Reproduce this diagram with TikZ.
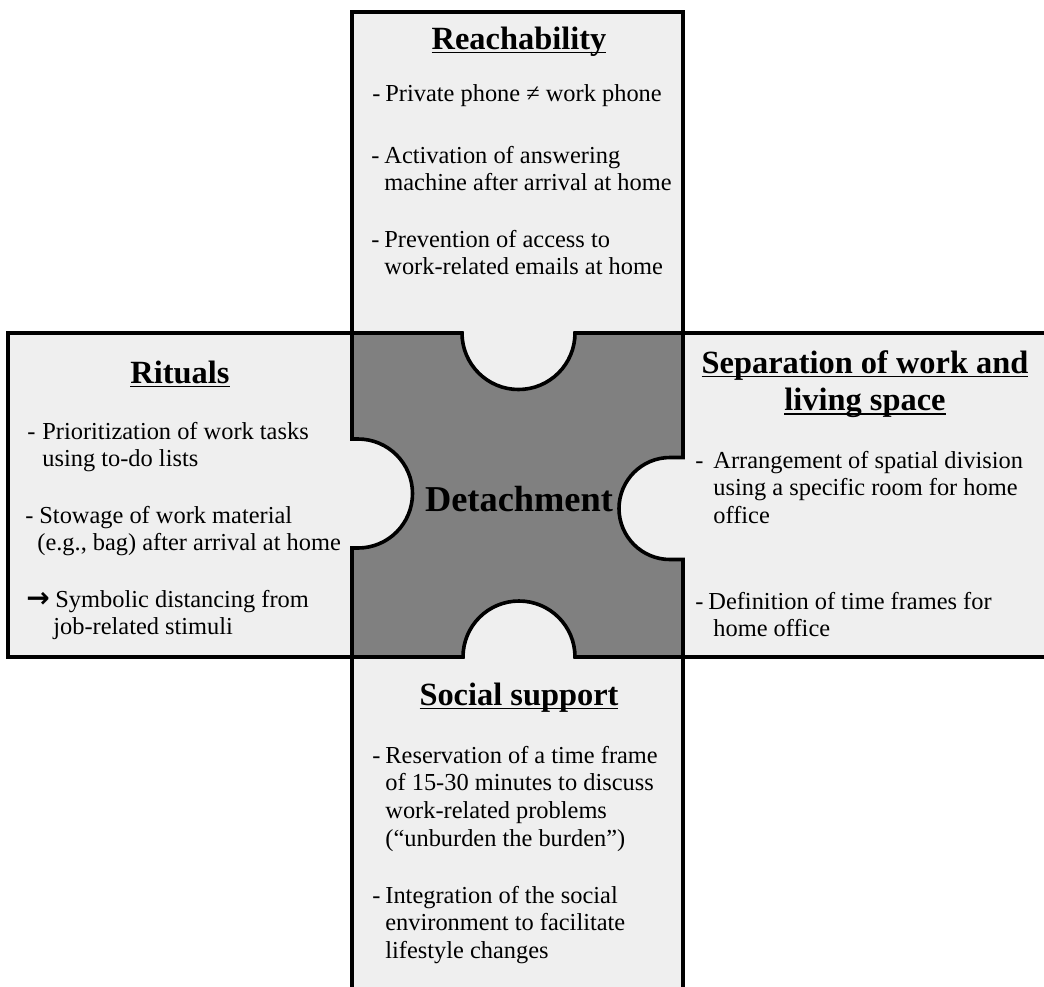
\documentclass[tikz,border=0pt]{standalone}
\usepackage{fontspec}
\setmainfont{Liberation Serif}
\newfontfamily\arrowfont{DejaVu Sans}
\definecolor{lightbg}{RGB}{239,239,239}
\definecolor{darkbg}{RGB}{128,128,128}
\newcommand\lines[1]{\begin{tabular}[t]{@{}l@{}}#1\end{tabular}}
\newcommand\tul[1]{\setbox0\hbox{#1}\rlap{\rule[-2.2pt]{\wd0}{0.9pt}}\box0}
\tikzset{
  boxfill/.style={fill=lightbg, draw=none},
  border/.style={draw=black, line width=1.8pt},
  puzzle/.style={fill=darkbg, draw=black, line width=1.8pt},
  titletxt/.style={inner sep=0pt, anchor=base, font=\fontsize{16.2}{18.6}\selectfont\bfseries},
  bodytxt/.style={inner sep=0pt, anchor=base west, font=\fontsize{12.2}{13.9}\selectfont},
  centertxt/.style={inner sep=0pt, anchor=base, font=\fontsize{18.2}{21}\selectfont\bfseries},
}
\begin{document}
\begin{tikzpicture}[x=0.5pt,y=0.5pt]
\useasboundingbox (0,0) rectangle (1044,-986);
\clip (0,0) rectangle (1044,-986);
% box fills
\fill[boxfill] (352,-12) rectangle (683,-333);
\fill[boxfill] (8,-333) rectangle (352,-657);
\fill[boxfill] (683,-333) rectangle (1060,-657);
\fill[boxfill] (352,-657) rectangle (683,-1000);
\fill[boxfill] (352,-333) rectangle (683,-657);
% center puzzle piece
\path[puzzle] (352,-333) -- (462,-333)
  arc[start angle=180, end angle=360, radius=56.5] -- (683,-333)
  -- (683,-457.5) -- (670,-457.5)
  arc[start angle=90, end angle=270, radius=51] -- (683,-559.5)
  -- (683,-657) -- (575,-657)
  arc[start angle=0, end angle=180, radius=56] -- (352,-657)
  -- (352,-548) -- (358,-548)
  arc[start angle=270, end angle=450, radius=54.5] -- (352,-439) -- cycle;
% box borders
\draw[border] (352,-333) -- (352,-12) -- (683,-12) -- (683,-333);
\draw[border] (352,-333) -- (8,-333) -- (8,-657) -- (352,-657);
\draw[border] (683,-333) -- (1060,-333);
\draw[border] (683,-657) -- (1060,-657);
\draw[border] (352,-657) -- (352,-1000);
\draw[border] (683,-657) -- (683,-1000);
% center label
\node[centertxt] (det) at (519,-511) {Detachment};
% top box
\node[titletxt] (reachT) at (519,-49) {\tul{Reachability}};
\node[bodytxt] (r1d) at (372,-101) {-};
\node[bodytxt] (r1) at (385,-101) {Private phone ≠ work phone};
\node[bodytxt] (r2d) at (371,-163) {-};
\node[bodytxt] (r2) at (384,-163) {\lines{Activation of answering\\machine after arrival at home}};
\node[bodytxt] (r3d) at (371,-247) {-};
\node[bodytxt] (r3) at (384,-247) {\lines{Prevention of access to\\work-related emails at home}};
% left box
\node[titletxt] (ritT) at (180,-383) {\tul{Rituals}};
\node[bodytxt] (l1d) at (27,-439) {-};
\node[bodytxt] (l1) at (42,-439) {\lines{Prioritization of work tasks\\using to-do lists}};
\node[bodytxt] (l2d) at (25,-523) {-};
\node[bodytxt] (l2) at (39,-523) {\lines{Stowage of work material\\\hspace{-1pt}(e.g., bag) after arrival at home}};
\node[bodytxt] (l3d) at (26,-607) {\arrowfont\fontsize{14}{14}\selectfont\bfseries →};
\node[bodytxt] (l3) at (55,-607) {\lines{Symbolic distancing from\\\hspace{-1pt}job-related stimuli}};
% right box
\node[titletxt] (sepT) at (865,-373) {\begin{tabular}[t]{@{}c@{}}\tul{Separation of work and}\\\tul{living space}\end{tabular}};
\node[bodytxt] (s1d) at (695,-468) {-};
\node[bodytxt] (s1) at (713,-468) {\lines{Arrangement of spatial division\\using a specific room for home\\office}};
\node[bodytxt] (s2d) at (695,-609) {-};
\node[bodytxt] (s2) at (708,-609) {\lines{Definition of time frames for\\\hspace{2.5pt}home office}};
% bottom box
\node[titletxt] (socT) at (519,-705) {\tul{Social support}};
\node[bodytxt] (b1d) at (372,-763) {-};
\node[bodytxt] (b1) at (385,-763) {\lines{Reservation of a time frame\\of 15-30 minutes to discuss\\work-related problems\\(“unburden the burden”)}};
\node[bodytxt] (b2d) at (372,-903) {-};
\node[bodytxt] (b2) at (385,-903) {\lines{Integration of the social\\environment to facilitate\\lifestyle changes}};
\end{tikzpicture}
\end{document}
